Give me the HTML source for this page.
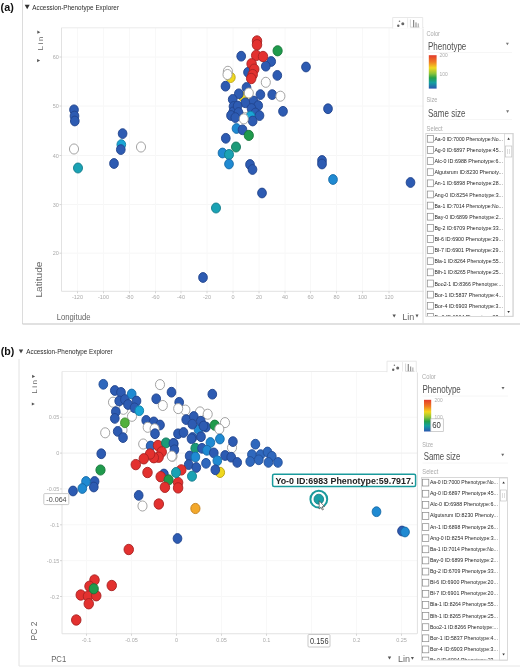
<!DOCTYPE html>
<html><head><meta charset="utf-8"><title>Accession-Phenotype Explorer</title>
<style>
html,body{margin:0;padding:0;background:#fff;}
body{width:520px;height:670px;overflow:hidden;}
svg text{font-family:"Liberation Sans", sans-serif;}
</style></head>
<body>
<svg width="520" height="670" viewBox="0 0 520 670" style="display:block;filter:blur(0.3px)">
<rect width="520" height="670" fill="#fff"/>
<text x="0.6" y="10.5" font-size="11.5" fill="#111" textLength="13.2" lengthAdjust="spacingAndGlyphs" font-weight="bold">(a)</text>
<polygon points="24.7,4.8 29.7,4.8 27.2,9.2" fill="#333"/>
<text x="32.3" y="9.5" font-size="7.2" fill="#2a2a2a" textLength="86.7" lengthAdjust="spacingAndGlyphs">Accession-Phenotype Explorer</text>
<line x1="22.5" y1="0" x2="22.5" y2="324" stroke="#dcdcdc" stroke-width="1"/>
<line x1="22.5" y1="324" x2="520" y2="324" stroke="#c4c4c4" stroke-width="1.2"/>
<line x1="61.5" y1="57" x2="424" y2="57" stroke="#f6f6f6" stroke-width="1"/>
<line x1="61.5" y1="106" x2="424" y2="106" stroke="#f6f6f6" stroke-width="1"/>
<line x1="61.5" y1="155.5" x2="424" y2="155.5" stroke="#f6f6f6" stroke-width="1"/>
<line x1="61.5" y1="204.6" x2="424" y2="204.6" stroke="#f6f6f6" stroke-width="1"/>
<line x1="61.5" y1="253.2" x2="424" y2="253.2" stroke="#f6f6f6" stroke-width="1"/>
<line x1="77.5" y1="27.8" x2="77.5" y2="291.3" stroke="#f8f8f8" stroke-width="1"/>
<line x1="103.5" y1="27.8" x2="103.5" y2="291.3" stroke="#f8f8f8" stroke-width="1"/>
<line x1="129.5" y1="27.8" x2="129.5" y2="291.3" stroke="#f8f8f8" stroke-width="1"/>
<line x1="155.5" y1="27.8" x2="155.5" y2="291.3" stroke="#f8f8f8" stroke-width="1"/>
<line x1="181" y1="27.8" x2="181" y2="291.3" stroke="#f8f8f8" stroke-width="1"/>
<line x1="207" y1="27.8" x2="207" y2="291.3" stroke="#f8f8f8" stroke-width="1"/>
<line x1="233" y1="27.8" x2="233" y2="291.3" stroke="#f8f8f8" stroke-width="1"/>
<line x1="259" y1="27.8" x2="259" y2="291.3" stroke="#f8f8f8" stroke-width="1"/>
<line x1="285" y1="27.8" x2="285" y2="291.3" stroke="#f8f8f8" stroke-width="1"/>
<line x1="310.5" y1="27.8" x2="310.5" y2="291.3" stroke="#f8f8f8" stroke-width="1"/>
<line x1="336.5" y1="27.8" x2="336.5" y2="291.3" stroke="#f8f8f8" stroke-width="1"/>
<line x1="362.5" y1="27.8" x2="362.5" y2="291.3" stroke="#f8f8f8" stroke-width="1"/>
<line x1="389" y1="27.8" x2="389" y2="291.3" stroke="#f8f8f8" stroke-width="1"/>
<line x1="61.5" y1="27.8" x2="424" y2="27.8" stroke="#ececec" stroke-width="1"/>
<line x1="61.5" y1="27.8" x2="61.5" y2="291.3" stroke="#e2e2e2" stroke-width="1"/>
<line x1="61.5" y1="291.3" x2="424" y2="291.3" stroke="#e2e2e2" stroke-width="1"/>
<line x1="77.5" y1="291.3" x2="77.5" y2="293.3" stroke="#ccc" stroke-width="0.8"/>
<text x="77.5" y="299" font-size="5.5" fill="#aaaaaa" text-anchor="middle">-120</text>
<line x1="103.5" y1="291.3" x2="103.5" y2="293.3" stroke="#ccc" stroke-width="0.8"/>
<text x="103.5" y="299" font-size="5.5" fill="#aaaaaa" text-anchor="middle">-100</text>
<line x1="129.5" y1="291.3" x2="129.5" y2="293.3" stroke="#ccc" stroke-width="0.8"/>
<text x="129.5" y="299" font-size="5.5" fill="#aaaaaa" text-anchor="middle">-80</text>
<line x1="155.5" y1="291.3" x2="155.5" y2="293.3" stroke="#ccc" stroke-width="0.8"/>
<text x="155.5" y="299" font-size="5.5" fill="#aaaaaa" text-anchor="middle">-60</text>
<line x1="181" y1="291.3" x2="181" y2="293.3" stroke="#ccc" stroke-width="0.8"/>
<text x="181" y="299" font-size="5.5" fill="#aaaaaa" text-anchor="middle">-40</text>
<line x1="207" y1="291.3" x2="207" y2="293.3" stroke="#ccc" stroke-width="0.8"/>
<text x="207" y="299" font-size="5.5" fill="#aaaaaa" text-anchor="middle">-20</text>
<line x1="233" y1="291.3" x2="233" y2="293.3" stroke="#ccc" stroke-width="0.8"/>
<text x="233" y="299" font-size="5.5" fill="#aaaaaa" text-anchor="middle">0</text>
<line x1="259" y1="291.3" x2="259" y2="293.3" stroke="#ccc" stroke-width="0.8"/>
<text x="259" y="299" font-size="5.5" fill="#aaaaaa" text-anchor="middle">20</text>
<line x1="285" y1="291.3" x2="285" y2="293.3" stroke="#ccc" stroke-width="0.8"/>
<text x="285" y="299" font-size="5.5" fill="#aaaaaa" text-anchor="middle">40</text>
<line x1="310.5" y1="291.3" x2="310.5" y2="293.3" stroke="#ccc" stroke-width="0.8"/>
<text x="310.5" y="299" font-size="5.5" fill="#aaaaaa" text-anchor="middle">60</text>
<line x1="336.5" y1="291.3" x2="336.5" y2="293.3" stroke="#ccc" stroke-width="0.8"/>
<text x="336.5" y="299" font-size="5.5" fill="#aaaaaa" text-anchor="middle">80</text>
<line x1="362.5" y1="291.3" x2="362.5" y2="293.3" stroke="#ccc" stroke-width="0.8"/>
<text x="362.5" y="299" font-size="5.5" fill="#aaaaaa" text-anchor="middle">100</text>
<line x1="389" y1="291.3" x2="389" y2="293.3" stroke="#ccc" stroke-width="0.8"/>
<text x="389" y="299" font-size="5.5" fill="#aaaaaa" text-anchor="middle">120</text>
<line x1="59.5" y1="57" x2="61.5" y2="57" stroke="#ccc" stroke-width="0.8"/>
<text x="58.8" y="59" font-size="5.5" fill="#aaaaaa" text-anchor="end">60</text>
<line x1="59.5" y1="106" x2="61.5" y2="106" stroke="#ccc" stroke-width="0.8"/>
<text x="58.8" y="108" font-size="5.5" fill="#aaaaaa" text-anchor="end">50</text>
<line x1="59.5" y1="155.5" x2="61.5" y2="155.5" stroke="#ccc" stroke-width="0.8"/>
<text x="58.8" y="157.5" font-size="5.5" fill="#aaaaaa" text-anchor="end">40</text>
<line x1="59.5" y1="204.6" x2="61.5" y2="204.6" stroke="#ccc" stroke-width="0.8"/>
<text x="58.8" y="206.6" font-size="5.5" fill="#aaaaaa" text-anchor="end">30</text>
<line x1="59.5" y1="253.2" x2="61.5" y2="253.2" stroke="#ccc" stroke-width="0.8"/>
<text x="58.8" y="255.2" font-size="5.5" fill="#aaaaaa" text-anchor="end">20</text>
<g transform="translate(42.5,50.3) rotate(-90)"><text x="0" y="0" font-size="7.5" fill="#666" textLength="13.5" lengthAdjust="spacing">Lin</text></g>
<polygon points="37.3,30.6 37.3,33.800000000000004 40.3,32.2 " fill="#555"/>
<polygon points="37.1,59.0 37.1,62.2 40.1,60.6 " fill="#555"/>
<g transform="translate(42.2,297.5) rotate(-90)"><text x="0" y="0" font-size="9.2" fill="#666" textLength="36" lengthAdjust="spacingAndGlyphs">Latitude</text></g>
<text x="56.7" y="320.3" font-size="9.2" fill="#666" textLength="33.8" lengthAdjust="spacingAndGlyphs">Longitude</text>
<polygon points="392.5,314.5 395.9,314.5 394.2,317.5" fill="#555"/>
<text x="402.3" y="320.3" font-size="9.2" fill="#666" textLength="12" lengthAdjust="spacingAndGlyphs">Lin</text>
<polygon points="415.5,314.6 418.5,314.6 417,317.4" fill="#555"/>
<ellipse cx="74" cy="109.8" rx="4.35" ry="4.9" fill="#2d5bb2" stroke="#21448c" stroke-width="0.9"/>
<ellipse cx="74.5" cy="116" rx="4.35" ry="4.9" fill="#2d5bb2" stroke="#21448c" stroke-width="0.9"/>
<ellipse cx="74.8" cy="121" rx="4.35" ry="4.9" fill="#2d5bb2" stroke="#21448c" stroke-width="0.9"/>
<ellipse cx="74" cy="149" rx="4.55" ry="5.05" fill="#ffffff" stroke="#9a9a9a" stroke-width="0.9"/>
<ellipse cx="78" cy="168" rx="4.5" ry="5.0" fill="#1aa2b4" stroke="#127c8a" stroke-width="0.9"/>
<ellipse cx="122.6" cy="133.6" rx="4.35" ry="4.9" fill="#2d5bb2" stroke="#21448c" stroke-width="0.9"/>
<ellipse cx="121.3" cy="144.6" rx="4.35" ry="4.9" fill="#19a6d6" stroke="#137fa6" stroke-width="0.9"/>
<ellipse cx="120.8" cy="149.6" rx="4.35" ry="4.9" fill="#2d5bb2" stroke="#21448c" stroke-width="0.9"/>
<ellipse cx="114" cy="163.5" rx="4.35" ry="4.9" fill="#2d5bb2" stroke="#21448c" stroke-width="0.9"/>
<ellipse cx="141" cy="147" rx="4.55" ry="5.05" fill="#ffffff" stroke="#9a9a9a" stroke-width="0.9"/>
<ellipse cx="230.6" cy="77.4" rx="4.6" ry="5.1" fill="#f0d81e" stroke="#b9a212" stroke-width="0.9"/>
<ellipse cx="243.5" cy="97" rx="4.6" ry="5.1" fill="#f0d81e" stroke="#b9a212" stroke-width="0.9"/>
<ellipse cx="244.8" cy="107.8" rx="4.55" ry="5.05" fill="#ffffff" stroke="#9a9a9a" stroke-width="0.9"/>
<ellipse cx="241.2" cy="56.2" rx="4.35" ry="4.9" fill="#2d5bb2" stroke="#21448c" stroke-width="0.9"/>
<ellipse cx="271.2" cy="61.5" rx="4.35" ry="4.9" fill="#2d5bb2" stroke="#21448c" stroke-width="0.9"/>
<ellipse cx="265.8" cy="66.2" rx="4.35" ry="4.9" fill="#2d5bb2" stroke="#21448c" stroke-width="0.9"/>
<ellipse cx="248" cy="72.3" rx="4.35" ry="4.9" fill="#2d5bb2" stroke="#21448c" stroke-width="0.9"/>
<ellipse cx="277.3" cy="75.4" rx="4.35" ry="4.9" fill="#2d5bb2" stroke="#21448c" stroke-width="0.9"/>
<ellipse cx="257" cy="41" rx="4.75" ry="5.2" fill="#e3312f" stroke="#a82222" stroke-width="0.9"/>
<ellipse cx="257" cy="44.8" rx="4.75" ry="5.2" fill="#e3312f" stroke="#a82222" stroke-width="0.9"/>
<ellipse cx="277.6" cy="50.8" rx="4.6" ry="5.1" fill="#1f9a4c" stroke="#17763a" stroke-width="0.9"/>
<ellipse cx="256.2" cy="55.4" rx="4.75" ry="5.2" fill="#e3312f" stroke="#a82222" stroke-width="0.9"/>
<ellipse cx="263" cy="56.5" rx="4.75" ry="5.2" fill="#e3312f" stroke="#a82222" stroke-width="0.9"/>
<ellipse cx="251.6" cy="63.8" rx="4.75" ry="5.2" fill="#e3312f" stroke="#a82222" stroke-width="0.9"/>
<ellipse cx="254.2" cy="69.2" rx="4.75" ry="5.2" fill="#e3312f" stroke="#a82222" stroke-width="0.9"/>
<ellipse cx="252.7" cy="74.6" rx="4.75" ry="5.2" fill="#e3312f" stroke="#a82222" stroke-width="0.9"/>
<ellipse cx="251.2" cy="78.5" rx="4.75" ry="5.2" fill="#e3312f" stroke="#a82222" stroke-width="0.9"/>
<ellipse cx="227.9" cy="71.3" rx="4.55" ry="5.05" fill="#ffffff" stroke="#9a9a9a" stroke-width="0.9"/>
<ellipse cx="227.5" cy="74.5" rx="4.55" ry="5.05" fill="#ffffff" stroke="#9a9a9a" stroke-width="0.9"/>
<ellipse cx="265.8" cy="82.3" rx="4.55" ry="5.05" fill="#ffffff" stroke="#9a9a9a" stroke-width="0.9"/>
<ellipse cx="225.5" cy="86.2" rx="4.35" ry="4.9" fill="#2d5bb2" stroke="#21448c" stroke-width="0.9"/>
<ellipse cx="246.5" cy="87.5" rx="4.35" ry="4.9" fill="#2d5bb2" stroke="#21448c" stroke-width="0.9"/>
<ellipse cx="253.5" cy="101" rx="4.35" ry="4.9" fill="#2d5bb2" stroke="#21448c" stroke-width="0.9"/>
<ellipse cx="248.8" cy="93" rx="4.55" ry="5.05" fill="#ffffff" stroke="#9a9a9a" stroke-width="0.9"/>
<ellipse cx="260.4" cy="94.6" rx="4.35" ry="4.9" fill="#2d5bb2" stroke="#21448c" stroke-width="0.9"/>
<ellipse cx="272.2" cy="94.6" rx="4.35" ry="4.9" fill="#2d5bb2" stroke="#21448c" stroke-width="0.9"/>
<ellipse cx="280.4" cy="96.2" rx="4.55" ry="5.05" fill="#ffffff" stroke="#9a9a9a" stroke-width="0.9"/>
<ellipse cx="238.8" cy="93.8" rx="4.35" ry="4.9" fill="#2d5bb2" stroke="#21448c" stroke-width="0.9"/>
<ellipse cx="232.7" cy="99.4" rx="4.35" ry="4.9" fill="#2d5bb2" stroke="#21448c" stroke-width="0.9"/>
<ellipse cx="245.3" cy="102.8" rx="4.35" ry="4.9" fill="#2d5bb2" stroke="#21448c" stroke-width="0.9"/>
<ellipse cx="258.2" cy="105.6" rx="4.35" ry="4.9" fill="#2d5bb2" stroke="#21448c" stroke-width="0.9"/>
<ellipse cx="283" cy="111.3" rx="4.35" ry="4.9" fill="#2d5bb2" stroke="#21448c" stroke-width="0.9"/>
<ellipse cx="233.5" cy="106.5" rx="4.35" ry="4.9" fill="#2d5bb2" stroke="#21448c" stroke-width="0.9"/>
<ellipse cx="233.2" cy="111.9" rx="4.35" ry="4.9" fill="#2d5bb2" stroke="#21448c" stroke-width="0.9"/>
<ellipse cx="231" cy="115.5" rx="4.35" ry="4.9" fill="#2d5bb2" stroke="#21448c" stroke-width="0.9"/>
<ellipse cx="237.6" cy="106" rx="4.35" ry="4.9" fill="#2d5bb2" stroke="#21448c" stroke-width="0.9"/>
<ellipse cx="238.5" cy="112.5" rx="4.35" ry="4.9" fill="#2d5bb2" stroke="#21448c" stroke-width="0.9"/>
<ellipse cx="251.5" cy="108.5" rx="4.35" ry="4.9" fill="#2d5bb2" stroke="#21448c" stroke-width="0.9"/>
<ellipse cx="255.4" cy="113" rx="4.35" ry="4.9" fill="#2d5bb2" stroke="#21448c" stroke-width="0.9"/>
<ellipse cx="259.5" cy="115.6" rx="4.35" ry="4.9" fill="#2d5bb2" stroke="#21448c" stroke-width="0.9"/>
<ellipse cx="235.3" cy="117.6" rx="4.35" ry="4.9" fill="#2d5bb2" stroke="#21448c" stroke-width="0.9"/>
<ellipse cx="250.5" cy="116.2" rx="4.35" ry="4.9" fill="#19a6d6" stroke="#137fa6" stroke-width="0.9"/>
<ellipse cx="252.7" cy="121" rx="4.35" ry="4.9" fill="#2d5bb2" stroke="#21448c" stroke-width="0.9"/>
<ellipse cx="243.8" cy="118.9" rx="4.55" ry="5.05" fill="#ffffff" stroke="#9a9a9a" stroke-width="0.9"/>
<ellipse cx="236.5" cy="128.5" rx="4.35" ry="4.9" fill="#1f8ad2" stroke="#166aa6" stroke-width="0.9"/>
<ellipse cx="242.5" cy="129.8" rx="4.35" ry="4.9" fill="#2d5bb2" stroke="#21448c" stroke-width="0.9"/>
<ellipse cx="248.8" cy="135.4" rx="4.6" ry="5.1" fill="#1f9a4c" stroke="#17763a" stroke-width="0.9"/>
<ellipse cx="225.8" cy="138.3" rx="4.35" ry="4.9" fill="#2d5bb2" stroke="#21448c" stroke-width="0.9"/>
<ellipse cx="236" cy="147" rx="4.5" ry="5.0" fill="#1c9b78" stroke="#14765a" stroke-width="0.9"/>
<ellipse cx="222.5" cy="153" rx="4.35" ry="4.9" fill="#1f8ad2" stroke="#166aa6" stroke-width="0.9"/>
<ellipse cx="229" cy="154.5" rx="4.5" ry="5.0" fill="#1aa2b4" stroke="#127c8a" stroke-width="0.9"/>
<ellipse cx="229" cy="164" rx="4.35" ry="4.9" fill="#1f8ad2" stroke="#166aa6" stroke-width="0.9"/>
<ellipse cx="250" cy="164.5" rx="4.35" ry="4.9" fill="#2d5bb2" stroke="#21448c" stroke-width="0.9"/>
<ellipse cx="252.5" cy="169.5" rx="4.35" ry="4.9" fill="#2d5bb2" stroke="#21448c" stroke-width="0.9"/>
<ellipse cx="262" cy="193" rx="4.35" ry="4.9" fill="#2d5bb2" stroke="#21448c" stroke-width="0.9"/>
<ellipse cx="216" cy="208" rx="4.5" ry="5.0" fill="#1aa2b4" stroke="#127c8a" stroke-width="0.9"/>
<ellipse cx="203" cy="277.5" rx="4.35" ry="4.9" fill="#2d5bb2" stroke="#21448c" stroke-width="0.9"/>
<ellipse cx="306" cy="67" rx="4.35" ry="4.9" fill="#2d5bb2" stroke="#21448c" stroke-width="0.9"/>
<ellipse cx="328" cy="108.75" rx="4.35" ry="4.9" fill="#2d5bb2" stroke="#21448c" stroke-width="0.9"/>
<ellipse cx="322" cy="160.5" rx="4.35" ry="4.9" fill="#2d5bb2" stroke="#21448c" stroke-width="0.9"/>
<ellipse cx="322" cy="164" rx="4.35" ry="4.9" fill="#2d5bb2" stroke="#21448c" stroke-width="0.9"/>
<ellipse cx="333" cy="179.5" rx="4.35" ry="4.9" fill="#1f8ad2" stroke="#166aa6" stroke-width="0.9"/>
<ellipse cx="410.5" cy="182.5" rx="4.35" ry="4.9" fill="#2d5bb2" stroke="#21448c" stroke-width="0.9"/>
<path d="M392.7 28.3 V17.5 H422.7 V28.3" fill="#fff" stroke="#e2e2e2" stroke-width="0.8"/>
<circle cx="398.3" cy="25.7" r="1.2" fill="#666"/><circle cx="399.5" cy="21.2" r="0.8" fill="#777"/><circle cx="402.8" cy="23.8" r="1.5" fill="#666"/>
<line x1="407.6" y1="18.2" x2="407.6" y2="27.6" stroke="#e6e6e6" stroke-width="0.8"/>
<path d="M410.4 19.5 V27.2 H419.5" fill="none" stroke="#aaa" stroke-width="0.5"/><rect x="413" y="20" width="1.2" height="7.2" fill="#888"/><rect x="415.4" y="22.4" width="1.2" height="4.8" fill="#999"/><rect x="417.7" y="23.4" width="1.1" height="3.8" fill="#aaa"/>
<line x1="423" y1="29" x2="423" y2="324" stroke="#e0e0e0" stroke-width="1"/>
<text x="426.4" y="35.5" font-size="7" fill="#aaa" textLength="13.6" lengthAdjust="spacingAndGlyphs">Color</text>
<text x="428" y="49.6" font-size="10.4" fill="#505050" textLength="38.3" lengthAdjust="spacingAndGlyphs">Phenotype</text>
<line x1="428" y1="52.5" x2="512" y2="52.5" stroke="#f4f4f4" stroke-width="0.8"/>
<polygon points="505.9,42.7 508.9,42.7 507.4,45.3" fill="#777"/>
<defs><linearGradient id="cb" x1="0" y1="0" x2="0" y2="1"><stop offset="0" stop-color="#e23a2c"/><stop offset="0.2" stop-color="#f07a22"/><stop offset="0.38" stop-color="#f2d81e"/><stop offset="0.55" stop-color="#8cc43a"/><stop offset="0.68" stop-color="#24a04a"/><stop offset="0.82" stop-color="#14a0a0"/><stop offset="1" stop-color="#2a56b0"/></linearGradient></defs>
<rect x="428.8" y="55.2" width="7.8" height="33.4" fill="url(#cb)"/>
<text x="439.6" y="57.4" font-size="5.5" fill="#aaa" textLength="8.2" lengthAdjust="spacingAndGlyphs">200</text>
<text x="439.6" y="75.6" font-size="5.5" fill="#aaa" textLength="8.2" lengthAdjust="spacingAndGlyphs">100</text>
<text x="426.6" y="102.2" font-size="7" fill="#aaa" textLength="10.8" lengthAdjust="spacingAndGlyphs">Size</text>
<text x="428" y="117.1" font-size="10.4" fill="#505050" textLength="37.4" lengthAdjust="spacingAndGlyphs">Same size</text>
<line x1="428" y1="119.5" x2="512" y2="119.5" stroke="#f4f4f4" stroke-width="0.8"/>
<polygon points="506.1,110.3 509.1,110.3 507.6,112.89999999999999" fill="#777"/>
<text x="426.6" y="130.8" font-size="7" fill="#aaa" textLength="16" lengthAdjust="spacingAndGlyphs">Select</text>
<rect x="425.8" y="133.4" width="87.4" height="183" fill="#fff" stroke="#cfcfcf" stroke-width="0.8"/>
<svg x="426" y="133.8" width="78.5" height="182.2">
<rect x="1.3" y="1.6" width="6.3" height="6.8" fill="#fff" stroke="#888" stroke-width="0.7"/>
<text x="8.4" y="7.1" font-size="5.9" fill="#262626" textLength="68.5" lengthAdjust="spacingAndGlyphs">Aa-0 ID:7000 Phenotype:No...</text>
<rect x="1.3" y="12.729999999999995" width="6.3" height="6.8" fill="#fff" stroke="#888" stroke-width="0.7"/>
<text x="8.4" y="18.229999999999997" font-size="5.9" fill="#262626" textLength="68.5" lengthAdjust="spacingAndGlyphs">Ag-0 ID:6897 Phenotype:45...</text>
<rect x="1.3" y="23.859999999999992" width="6.3" height="6.8" fill="#fff" stroke="#888" stroke-width="0.7"/>
<text x="8.4" y="29.359999999999992" font-size="5.9" fill="#262626" textLength="68.5" lengthAdjust="spacingAndGlyphs">Alc-0 ID:6988 Phenotype:6...</text>
<rect x="1.3" y="34.98999999999999" width="6.3" height="6.8" fill="#fff" stroke="#888" stroke-width="0.7"/>
<text x="8.4" y="40.48999999999999" font-size="5.9" fill="#262626" textLength="68.5" lengthAdjust="spacingAndGlyphs">Algutsrum ID:8230 Phenoty...</text>
<rect x="1.3" y="46.12000000000001" width="6.3" height="6.8" fill="#fff" stroke="#888" stroke-width="0.7"/>
<text x="8.4" y="51.62000000000001" font-size="5.9" fill="#262626" textLength="68.5" lengthAdjust="spacingAndGlyphs">An-1 ID:6898 Phenotype:28...</text>
<rect x="1.3" y="57.25000000000001" width="6.3" height="6.8" fill="#fff" stroke="#888" stroke-width="0.7"/>
<text x="8.4" y="62.75000000000001" font-size="5.9" fill="#262626" textLength="68.5" lengthAdjust="spacingAndGlyphs">Ang-0 ID:8254 Phenotype:3...</text>
<rect x="1.3" y="68.38" width="6.3" height="6.8" fill="#fff" stroke="#888" stroke-width="0.7"/>
<text x="8.4" y="73.88" font-size="5.9" fill="#262626" textLength="68.5" lengthAdjust="spacingAndGlyphs">Ba-1 ID:7014 Phenotype:No...</text>
<rect x="1.3" y="79.51000000000002" width="6.3" height="6.8" fill="#fff" stroke="#888" stroke-width="0.7"/>
<text x="8.4" y="85.01000000000002" font-size="5.9" fill="#262626" textLength="68.5" lengthAdjust="spacingAndGlyphs">Bay-0 ID:6899 Phenotype:2...</text>
<rect x="1.3" y="90.64000000000001" width="6.3" height="6.8" fill="#fff" stroke="#888" stroke-width="0.7"/>
<text x="8.4" y="96.14000000000001" font-size="5.9" fill="#262626" textLength="68.5" lengthAdjust="spacingAndGlyphs">Bg-2 ID:6709 Phenotype:33...</text>
<rect x="1.3" y="101.77000000000001" width="6.3" height="6.8" fill="#fff" stroke="#888" stroke-width="0.7"/>
<text x="8.4" y="107.27000000000001" font-size="5.9" fill="#262626" textLength="68.5" lengthAdjust="spacingAndGlyphs">Bl-6 ID:6900 Phenotype:29...</text>
<rect x="1.3" y="112.9" width="6.3" height="6.8" fill="#fff" stroke="#888" stroke-width="0.7"/>
<text x="8.4" y="118.4" font-size="5.9" fill="#262626" textLength="68.5" lengthAdjust="spacingAndGlyphs">Bl-7 ID:6901 Phenotype:29...</text>
<rect x="1.3" y="124.03" width="6.3" height="6.8" fill="#fff" stroke="#888" stroke-width="0.7"/>
<text x="8.4" y="129.53" font-size="5.9" fill="#262626" textLength="68.5" lengthAdjust="spacingAndGlyphs">Bla-1 ID:8264 Phenotype:55...</text>
<rect x="1.3" y="135.16" width="6.3" height="6.8" fill="#fff" stroke="#888" stroke-width="0.7"/>
<text x="8.4" y="140.66" font-size="5.9" fill="#262626" textLength="68.5" lengthAdjust="spacingAndGlyphs">Blh-1 ID:8265 Phenotype:25...</text>
<rect x="1.3" y="146.29" width="6.3" height="6.8" fill="#fff" stroke="#888" stroke-width="0.7"/>
<text x="8.4" y="151.79" font-size="5.9" fill="#262626" textLength="68.5" lengthAdjust="spacingAndGlyphs">Boo2-1 ID:8366 Phenotype:...</text>
<rect x="1.3" y="157.42" width="6.3" height="6.8" fill="#fff" stroke="#888" stroke-width="0.7"/>
<text x="8.4" y="162.92" font-size="5.9" fill="#262626" textLength="68.5" lengthAdjust="spacingAndGlyphs">Bor-1 ID:5837 Phenotype:4...</text>
<rect x="1.3" y="168.54999999999998" width="6.3" height="6.8" fill="#fff" stroke="#888" stroke-width="0.7"/>
<text x="8.4" y="174.04999999999998" font-size="5.9" fill="#262626" textLength="68.5" lengthAdjust="spacingAndGlyphs">Bor-4 ID:6903 Phenotype:3...</text>
<rect x="1.3" y="179.67999999999998" width="6.3" height="6.8" fill="#fff" stroke="#888" stroke-width="0.7"/>
<text x="8.4" y="185.17999999999998" font-size="5.9" fill="#262626" textLength="68.5" lengthAdjust="spacingAndGlyphs">Br-0 ID:6904 Phenotype:23...</text>
</svg>
<rect x="504.6" y="133.8" width="8.2" height="182.4" fill="#fff" stroke="#cfcfcf" stroke-width="0.7"/>
<polygon transform="rotate(180 508.6 138.6)" points="507.3,137.5 509.90000000000003,137.5 508.6,139.7" fill="#333"/>
<rect x="505.6" y="146" width="6.2" height="11" fill="#fff" stroke="#bbb" stroke-width="0.6"/>
<line x1="507.5" y1="149" x2="507.5" y2="154" stroke="#bbb" stroke-width="0.5"/><line x1="509.5" y1="149" x2="509.5" y2="154" stroke="#bbb" stroke-width="0.5"/>
<polygon points="507.3,310.9 509.90000000000003,310.9 508.6,313.1" fill="#333"/>
<text x="0.8" y="355.4" font-size="11.5" fill="#111" textLength="13.6" lengthAdjust="spacingAndGlyphs" font-weight="bold">(b)</text>
<polygon points="18.8,349.6 23.2,349.6 21,353.6" fill="#444"/>
<text x="26.3" y="354.2" font-size="7.2" fill="#2a2a2a" textLength="86.3" lengthAdjust="spacingAndGlyphs">Accession-Phenotype Explorer</text>
<line x1="19" y1="359" x2="19" y2="666" stroke="#e2e2e2" stroke-width="1"/>
<line x1="19" y1="666" x2="520" y2="666" stroke="#e6e6e6" stroke-width="1"/>
<line x1="62" y1="417.25" x2="417" y2="417.25" stroke="#f7f7f7" stroke-width="1"/>
<line x1="62" y1="488.95000000000005" x2="417" y2="488.95000000000005" stroke="#f7f7f7" stroke-width="1"/>
<line x1="62" y1="524.8000000000001" x2="417" y2="524.8000000000001" stroke="#f7f7f7" stroke-width="1"/>
<line x1="62" y1="560.65" x2="417" y2="560.65" stroke="#f7f7f7" stroke-width="1"/>
<line x1="62" y1="596.5" x2="417" y2="596.5" stroke="#f7f7f7" stroke-width="1"/>
<line x1="86.5" y1="371.5" x2="86.5" y2="633.75" stroke="#f8f8f8" stroke-width="1"/>
<line x1="131.5" y1="371.5" x2="131.5" y2="633.75" stroke="#f8f8f8" stroke-width="1"/>
<line x1="221.5" y1="371.5" x2="221.5" y2="633.75" stroke="#f8f8f8" stroke-width="1"/>
<line x1="266.5" y1="371.5" x2="266.5" y2="633.75" stroke="#f8f8f8" stroke-width="1"/>
<line x1="311.5" y1="371.5" x2="311.5" y2="633.75" stroke="#f8f8f8" stroke-width="1"/>
<line x1="356.5" y1="371.5" x2="356.5" y2="633.75" stroke="#f8f8f8" stroke-width="1"/>
<line x1="401.5" y1="371.5" x2="401.5" y2="633.75" stroke="#f8f8f8" stroke-width="1"/>
<line x1="62" y1="453.1" x2="417" y2="453.1" stroke="#eeeeee" stroke-width="1"/>
<line x1="176.5" y1="371.5" x2="176.5" y2="633.75" stroke="#f0f0f0" stroke-width="1"/>
<line x1="62" y1="371.5" x2="417" y2="371.5" stroke="#ececec" stroke-width="1"/>
<line x1="62" y1="371.5" x2="62" y2="633.75" stroke="#e2e2e2" stroke-width="1"/>
<line x1="62" y1="633.75" x2="417" y2="633.75" stroke="#e2e2e2" stroke-width="1"/>
<line x1="86.5" y1="633.75" x2="86.5" y2="635.75" stroke="#ccc" stroke-width="0.8"/>
<text x="86.5" y="641.6" font-size="5.5" fill="#aaaaaa" text-anchor="middle">-0.1</text>
<line x1="131.5" y1="633.75" x2="131.5" y2="635.75" stroke="#ccc" stroke-width="0.8"/>
<text x="131.5" y="641.6" font-size="5.5" fill="#aaaaaa" text-anchor="middle">-0.05</text>
<line x1="176.5" y1="633.75" x2="176.5" y2="635.75" stroke="#ccc" stroke-width="0.8"/>
<text x="176.5" y="641.6" font-size="5.5" fill="#aaaaaa" text-anchor="middle">0</text>
<line x1="221.5" y1="633.75" x2="221.5" y2="635.75" stroke="#ccc" stroke-width="0.8"/>
<text x="221.5" y="641.6" font-size="5.5" fill="#aaaaaa" text-anchor="middle">0.05</text>
<line x1="266.5" y1="633.75" x2="266.5" y2="635.75" stroke="#ccc" stroke-width="0.8"/>
<text x="266.5" y="641.6" font-size="5.5" fill="#aaaaaa" text-anchor="middle">0.1</text>
<line x1="356.5" y1="633.75" x2="356.5" y2="635.75" stroke="#ccc" stroke-width="0.8"/>
<text x="356.5" y="641.6" font-size="5.5" fill="#aaaaaa" text-anchor="middle">0.2</text>
<line x1="401.5" y1="633.75" x2="401.5" y2="635.75" stroke="#ccc" stroke-width="0.8"/>
<text x="401.5" y="641.6" font-size="5.5" fill="#aaaaaa" text-anchor="middle">0.25</text>
<line x1="60" y1="417.25" x2="62" y2="417.25" stroke="#ccc" stroke-width="0.8"/>
<text x="59.4" y="419.25" font-size="5.5" fill="#aaaaaa" text-anchor="end">0.05</text>
<line x1="60" y1="453.1" x2="62" y2="453.1" stroke="#ccc" stroke-width="0.8"/>
<text x="59.4" y="455.1" font-size="5.5" fill="#aaaaaa" text-anchor="end">0</text>
<line x1="60" y1="488.95000000000005" x2="62" y2="488.95000000000005" stroke="#ccc" stroke-width="0.8"/>
<text x="59.4" y="490.95000000000005" font-size="5.5" fill="#aaaaaa" text-anchor="end">-0.05</text>
<line x1="60" y1="524.8000000000001" x2="62" y2="524.8000000000001" stroke="#ccc" stroke-width="0.8"/>
<text x="59.4" y="526.8000000000001" font-size="5.5" fill="#aaaaaa" text-anchor="end">-0.1</text>
<line x1="60" y1="560.65" x2="62" y2="560.65" stroke="#ccc" stroke-width="0.8"/>
<text x="59.4" y="562.65" font-size="5.5" fill="#aaaaaa" text-anchor="end">-0.15</text>
<line x1="60" y1="596.5" x2="62" y2="596.5" stroke="#ccc" stroke-width="0.8"/>
<text x="59.4" y="598.5" font-size="5.5" fill="#aaaaaa" text-anchor="end">-0.2</text>
<g transform="translate(37,393.6) rotate(-90)"><text x="0" y="0" font-size="7.5" fill="#666" textLength="13.5" lengthAdjust="spacing">Lin</text></g>
<polygon points="32.1,374.79999999999995 32.1,378.0 35.1,376.4 " fill="#555"/>
<polygon points="31.799999999999997,402.4 31.799999999999997,405.6 34.8,404 " fill="#555"/>
<g transform="translate(37.2,640.5) rotate(-90)"><text x="0" y="0" font-size="9.2" fill="#666" textLength="19" lengthAdjust="spacingAndGlyphs">PC 2</text></g>
<text x="51.2" y="662" font-size="9.2" fill="#666" textLength="15" lengthAdjust="spacingAndGlyphs">PC1</text>
<polygon points="387.8,656.5 391.2,656.5 389.5,659.5" fill="#555"/>
<text x="398" y="662" font-size="9.2" fill="#666" textLength="12" lengthAdjust="spacingAndGlyphs">Lin</text>
<polygon points="410.9,657.0 413.9,657.0 412.4,659.8" fill="#555"/>
<ellipse cx="113" cy="402.2" rx="4.55" ry="5.05" fill="#ffffff" stroke="#9a9a9a" stroke-width="0.9"/>
<ellipse cx="123.4" cy="409.3" rx="4.55" ry="5.05" fill="#ffffff" stroke="#9a9a9a" stroke-width="0.9"/>
<ellipse cx="132" cy="416.3" rx="4.55" ry="5.05" fill="#ffffff" stroke="#9a9a9a" stroke-width="0.9"/>
<ellipse cx="122.5" cy="430" rx="4.55" ry="5.05" fill="#ffffff" stroke="#9a9a9a" stroke-width="0.9"/>
<ellipse cx="103.3" cy="384.3" rx="4.35" ry="4.9" fill="#2f68bd" stroke="#224e96" stroke-width="0.9"/>
<ellipse cx="160" cy="384.6" rx="4.55" ry="5.05" fill="#ffffff" stroke="#9a9a9a" stroke-width="0.9"/>
<ellipse cx="114.8" cy="390.5" rx="4.35" ry="4.9" fill="#2d5bb2" stroke="#21448c" stroke-width="0.9"/>
<ellipse cx="121" cy="392.4" rx="4.35" ry="4.9" fill="#2d5bb2" stroke="#21448c" stroke-width="0.9"/>
<ellipse cx="119.2" cy="401" rx="4.35" ry="4.9" fill="#2d5bb2" stroke="#21448c" stroke-width="0.9"/>
<ellipse cx="124.9" cy="399.5" rx="4.35" ry="4.9" fill="#2d5bb2" stroke="#21448c" stroke-width="0.9"/>
<ellipse cx="131.7" cy="394" rx="4.35" ry="4.9" fill="#1f8ad2" stroke="#166aa6" stroke-width="0.9"/>
<ellipse cx="128" cy="404.5" rx="4.35" ry="4.9" fill="#2d5bb2" stroke="#21448c" stroke-width="0.9"/>
<ellipse cx="136.5" cy="401" rx="4.35" ry="4.9" fill="#2d5bb2" stroke="#21448c" stroke-width="0.9"/>
<ellipse cx="134.5" cy="407.8" rx="4.35" ry="4.9" fill="#2d5bb2" stroke="#21448c" stroke-width="0.9"/>
<ellipse cx="139.3" cy="410.7" rx="4.35" ry="4.9" fill="#19a6d6" stroke="#137fa6" stroke-width="0.9"/>
<ellipse cx="115.8" cy="411.7" rx="4.35" ry="4.9" fill="#2d5bb2" stroke="#21448c" stroke-width="0.9"/>
<ellipse cx="114.8" cy="418.4" rx="4.35" ry="4.9" fill="#2d5bb2" stroke="#21448c" stroke-width="0.9"/>
<ellipse cx="124.9" cy="422.8" rx="4.35" ry="4.9" fill="#52b03c" stroke="#3c8a2c" stroke-width="0.9"/>
<ellipse cx="105.2" cy="432.8" rx="4.55" ry="5.05" fill="#ffffff" stroke="#9a9a9a" stroke-width="0.9"/>
<ellipse cx="117.7" cy="431.4" rx="4.35" ry="4.9" fill="#2d5bb2" stroke="#21448c" stroke-width="0.9"/>
<ellipse cx="123" cy="437.6" rx="4.35" ry="4.9" fill="#2d5bb2" stroke="#21448c" stroke-width="0.9"/>
<ellipse cx="179.2" cy="402.3" rx="4.35" ry="4.9" fill="#2d5bb2" stroke="#21448c" stroke-width="0.9"/>
<ellipse cx="185.4" cy="410.1" rx="4.55" ry="5.05" fill="#ffffff" stroke="#9a9a9a" stroke-width="0.9"/>
<ellipse cx="178.2" cy="408.6" rx="4.55" ry="5.05" fill="#ffffff" stroke="#9a9a9a" stroke-width="0.9"/>
<ellipse cx="200" cy="411.9" rx="4.55" ry="5.05" fill="#ffffff" stroke="#9a9a9a" stroke-width="0.9"/>
<ellipse cx="207.7" cy="414.2" rx="4.55" ry="5.05" fill="#ffffff" stroke="#9a9a9a" stroke-width="0.9"/>
<ellipse cx="171.5" cy="392.2" rx="4.35" ry="4.9" fill="#2d5bb2" stroke="#21448c" stroke-width="0.9"/>
<ellipse cx="156.2" cy="398.8" rx="4.35" ry="4.9" fill="#2d5bb2" stroke="#21448c" stroke-width="0.9"/>
<ellipse cx="162.8" cy="405.5" rx="4.55" ry="5.05" fill="#ffffff" stroke="#9a9a9a" stroke-width="0.9"/>
<ellipse cx="212.3" cy="394.2" rx="4.35" ry="4.9" fill="#2d5bb2" stroke="#21448c" stroke-width="0.9"/>
<ellipse cx="186.2" cy="419.6" rx="4.35" ry="4.9" fill="#2d5bb2" stroke="#21448c" stroke-width="0.9"/>
<ellipse cx="198.5" cy="429.6" rx="4.35" ry="4.9" fill="#1f8ad2" stroke="#166aa6" stroke-width="0.9"/>
<ellipse cx="206" cy="427" rx="4.35" ry="4.9" fill="#2d5bb2" stroke="#21448c" stroke-width="0.9"/>
<ellipse cx="193.8" cy="416.5" rx="4.35" ry="4.9" fill="#2d5bb2" stroke="#21448c" stroke-width="0.9"/>
<ellipse cx="200.8" cy="421.2" rx="4.35" ry="4.9" fill="#2d5bb2" stroke="#21448c" stroke-width="0.9"/>
<ellipse cx="192.3" cy="424.2" rx="4.35" ry="4.9" fill="#2d5bb2" stroke="#21448c" stroke-width="0.9"/>
<ellipse cx="214.7" cy="425.2" rx="4.6" ry="5.1" fill="#1f9a4c" stroke="#17763a" stroke-width="0.9"/>
<ellipse cx="146.2" cy="420.4" rx="4.35" ry="4.9" fill="#2d5bb2" stroke="#21448c" stroke-width="0.9"/>
<ellipse cx="153.8" cy="421.9" rx="4.35" ry="4.9" fill="#2d5bb2" stroke="#21448c" stroke-width="0.9"/>
<ellipse cx="160" cy="425" rx="4.35" ry="4.9" fill="#2d5bb2" stroke="#21448c" stroke-width="0.9"/>
<ellipse cx="147.7" cy="427.3" rx="4.55" ry="5.05" fill="#ffffff" stroke="#9a9a9a" stroke-width="0.9"/>
<ellipse cx="154.6" cy="428.8" rx="4.55" ry="5.05" fill="#ffffff" stroke="#9a9a9a" stroke-width="0.9"/>
<ellipse cx="155" cy="433.75" rx="4.35" ry="4.9" fill="#2d5bb2" stroke="#21448c" stroke-width="0.9"/>
<ellipse cx="178" cy="433.8" rx="4.35" ry="4.9" fill="#2d5bb2" stroke="#21448c" stroke-width="0.9"/>
<ellipse cx="183.5" cy="432.5" rx="4.35" ry="4.9" fill="#2d5bb2" stroke="#21448c" stroke-width="0.9"/>
<ellipse cx="225" cy="422.6" rx="4.55" ry="5.05" fill="#ffffff" stroke="#9a9a9a" stroke-width="0.9"/>
<ellipse cx="219.3" cy="429" rx="4.55" ry="5.05" fill="#ffffff" stroke="#9a9a9a" stroke-width="0.9"/>
<ellipse cx="203.5" cy="426" rx="4.35" ry="4.9" fill="#2d5bb2" stroke="#21448c" stroke-width="0.9"/>
<ellipse cx="192.5" cy="437.5" rx="4.35" ry="4.9" fill="#2d5bb2" stroke="#21448c" stroke-width="0.9"/>
<ellipse cx="201" cy="436.7" rx="4.35" ry="4.9" fill="#2d5bb2" stroke="#21448c" stroke-width="0.9"/>
<ellipse cx="232" cy="447.7" rx="4.55" ry="5.05" fill="#ffffff" stroke="#9a9a9a" stroke-width="0.9"/>
<ellipse cx="219.9" cy="439" rx="4.35" ry="4.9" fill="#1f8ad2" stroke="#166aa6" stroke-width="0.9"/>
<ellipse cx="232.9" cy="441.6" rx="4.35" ry="4.9" fill="#2d5bb2" stroke="#21448c" stroke-width="0.9"/>
<ellipse cx="210.4" cy="442.5" rx="4.35" ry="4.9" fill="#1f8ad2" stroke="#166aa6" stroke-width="0.9"/>
<ellipse cx="173.75" cy="443.75" rx="4.35" ry="4.9" fill="#2d5bb2" stroke="#21448c" stroke-width="0.9"/>
<ellipse cx="191.5" cy="438.7" rx="4.35" ry="4.9" fill="#2d5bb2" stroke="#21448c" stroke-width="0.9"/>
<ellipse cx="195.4" cy="448.3" rx="4.5" ry="5.0" fill="#1c9b78" stroke="#14765a" stroke-width="0.9"/>
<ellipse cx="202" cy="448.3" rx="4.35" ry="4.9" fill="#2d5bb2" stroke="#21448c" stroke-width="0.9"/>
<ellipse cx="206.9" cy="450.3" rx="4.35" ry="4.9" fill="#1f8ad2" stroke="#166aa6" stroke-width="0.9"/>
<ellipse cx="213.8" cy="452.9" rx="4.35" ry="4.9" fill="#2d5bb2" stroke="#21448c" stroke-width="0.9"/>
<ellipse cx="225.1" cy="455.5" rx="4.35" ry="4.9" fill="#2d5bb2" stroke="#21448c" stroke-width="0.9"/>
<ellipse cx="231.2" cy="457.2" rx="4.35" ry="4.9" fill="#2d5bb2" stroke="#21448c" stroke-width="0.9"/>
<ellipse cx="237.2" cy="462.4" rx="4.35" ry="4.9" fill="#2d5bb2" stroke="#21448c" stroke-width="0.9"/>
<ellipse cx="189.6" cy="456" rx="4.35" ry="4.9" fill="#2d5bb2" stroke="#21448c" stroke-width="0.9"/>
<ellipse cx="195.4" cy="457" rx="4.35" ry="4.9" fill="#1f8ad2" stroke="#166aa6" stroke-width="0.9"/>
<ellipse cx="188.7" cy="464.6" rx="4.35" ry="4.9" fill="#2d5bb2" stroke="#21448c" stroke-width="0.9"/>
<ellipse cx="196.3" cy="467.5" rx="4.35" ry="4.9" fill="#2d5bb2" stroke="#21448c" stroke-width="0.9"/>
<ellipse cx="206" cy="463.3" rx="4.35" ry="4.9" fill="#2f68bd" stroke="#224e96" stroke-width="0.9"/>
<ellipse cx="220" cy="472.4" rx="4.6" ry="5.1" fill="#f0d81e" stroke="#b9a212" stroke-width="0.9"/>
<ellipse cx="217.3" cy="460.7" rx="4.35" ry="4.9" fill="#1f8ad2" stroke="#166aa6" stroke-width="0.9"/>
<ellipse cx="215.3" cy="469.8" rx="4.35" ry="4.9" fill="#2d5bb2" stroke="#21448c" stroke-width="0.9"/>
<ellipse cx="172.5" cy="456.25" rx="4.55" ry="5.05" fill="#ffffff" stroke="#9a9a9a" stroke-width="0.9"/>
<ellipse cx="192" cy="476.2" rx="4.5" ry="5.0" fill="#1aa2b4" stroke="#127c8a" stroke-width="0.9"/>
<ellipse cx="255.4" cy="444.2" rx="4.35" ry="4.9" fill="#2f68bd" stroke="#224e96" stroke-width="0.9"/>
<ellipse cx="251.9" cy="454.6" rx="4.35" ry="4.9" fill="#2f68bd" stroke="#224e96" stroke-width="0.9"/>
<ellipse cx="250.2" cy="461.5" rx="4.35" ry="4.9" fill="#2f68bd" stroke="#224e96" stroke-width="0.9"/>
<ellipse cx="260.6" cy="454.6" rx="4.35" ry="4.9" fill="#2f68bd" stroke="#224e96" stroke-width="0.9"/>
<ellipse cx="267.5" cy="452" rx="4.35" ry="4.9" fill="#2f68bd" stroke="#224e96" stroke-width="0.9"/>
<ellipse cx="271.8" cy="456.3" rx="4.35" ry="4.9" fill="#2f68bd" stroke="#224e96" stroke-width="0.9"/>
<ellipse cx="268.4" cy="462.4" rx="4.35" ry="4.9" fill="#2f68bd" stroke="#224e96" stroke-width="0.9"/>
<ellipse cx="277.9" cy="462.4" rx="4.35" ry="4.9" fill="#2f68bd" stroke="#224e96" stroke-width="0.9"/>
<ellipse cx="258.8" cy="459.8" rx="4.35" ry="4.9" fill="#2f68bd" stroke="#224e96" stroke-width="0.9"/>
<ellipse cx="143.2" cy="444" rx="4.55" ry="5.05" fill="#ffffff" stroke="#9a9a9a" stroke-width="0.9"/>
<ellipse cx="150.6" cy="446" rx="4.35" ry="4.9" fill="#2f68bd" stroke="#224e96" stroke-width="0.9"/>
<ellipse cx="158" cy="445.5" rx="4.75" ry="5.2" fill="#e3312f" stroke="#a82222" stroke-width="0.9"/>
<ellipse cx="166" cy="442.9" rx="4.5" ry="5.0" fill="#1c9b78" stroke="#14765a" stroke-width="0.9"/>
<ellipse cx="173.4" cy="443.4" rx="4.35" ry="4.9" fill="#2d5bb2" stroke="#21448c" stroke-width="0.9"/>
<ellipse cx="174.4" cy="449.8" rx="4.35" ry="4.9" fill="#2d5bb2" stroke="#21448c" stroke-width="0.9"/>
<ellipse cx="171.8" cy="456.1" rx="4.55" ry="5.05" fill="#ffffff" stroke="#9a9a9a" stroke-width="0.9"/>
<ellipse cx="161.7" cy="451.9" rx="4.75" ry="5.2" fill="#e3312f" stroke="#a82222" stroke-width="0.9"/>
<ellipse cx="158.6" cy="457.2" rx="4.75" ry="5.2" fill="#e3312f" stroke="#a82222" stroke-width="0.9"/>
<ellipse cx="153.8" cy="457.7" rx="4.75" ry="5.2" fill="#e3312f" stroke="#a82222" stroke-width="0.9"/>
<ellipse cx="150.1" cy="454" rx="4.75" ry="5.2" fill="#e3312f" stroke="#a82222" stroke-width="0.9"/>
<ellipse cx="143.8" cy="458.8" rx="4.75" ry="5.2" fill="#e3312f" stroke="#a82222" stroke-width="0.9"/>
<ellipse cx="135.8" cy="464.6" rx="4.75" ry="5.2" fill="#e3312f" stroke="#a82222" stroke-width="0.9"/>
<ellipse cx="147.5" cy="472.5" rx="4.75" ry="5.2" fill="#e3312f" stroke="#a82222" stroke-width="0.9"/>
<ellipse cx="163.9" cy="474" rx="4.35" ry="4.9" fill="#2d5bb2" stroke="#21448c" stroke-width="0.9"/>
<ellipse cx="160.7" cy="476.7" rx="4.75" ry="5.2" fill="#e3312f" stroke="#a82222" stroke-width="0.9"/>
<ellipse cx="168.6" cy="479.9" rx="4.6" ry="5.1" fill="#1f9a4c" stroke="#17763a" stroke-width="0.9"/>
<ellipse cx="164.9" cy="487.3" rx="4.75" ry="5.2" fill="#e3312f" stroke="#a82222" stroke-width="0.9"/>
<ellipse cx="178.1" cy="482.6" rx="4.75" ry="5.2" fill="#e3312f" stroke="#a82222" stroke-width="0.9"/>
<ellipse cx="178.1" cy="487.9" rx="4.75" ry="5.2" fill="#e3312f" stroke="#a82222" stroke-width="0.9"/>
<ellipse cx="181.3" cy="469.9" rx="4.75" ry="5.2" fill="#e3312f" stroke="#a82222" stroke-width="0.9"/>
<ellipse cx="176" cy="472.5" rx="4.5" ry="5.0" fill="#1aa2b4" stroke="#127c8a" stroke-width="0.9"/>
<ellipse cx="138.7" cy="495.4" rx="4.35" ry="4.9" fill="#2d5bb2" stroke="#21448c" stroke-width="0.9"/>
<ellipse cx="142.5" cy="506" rx="4.55" ry="5.05" fill="#ffffff" stroke="#9a9a9a" stroke-width="0.9"/>
<ellipse cx="158.8" cy="504" rx="4.75" ry="5.2" fill="#e3312f" stroke="#a82222" stroke-width="0.9"/>
<ellipse cx="195.4" cy="508.5" rx="4.6" ry="5.1" fill="#f3a82a" stroke="#c27c14" stroke-width="0.9"/>
<ellipse cx="101.25" cy="453.75" rx="4.35" ry="4.9" fill="#2d5bb2" stroke="#21448c" stroke-width="0.9"/>
<ellipse cx="100.5" cy="470" rx="4.6" ry="5.1" fill="#1f9a4c" stroke="#17763a" stroke-width="0.9"/>
<ellipse cx="94.6" cy="481.5" rx="4.35" ry="4.9" fill="#2d5bb2" stroke="#21448c" stroke-width="0.9"/>
<ellipse cx="93.8" cy="487" rx="4.35" ry="4.9" fill="#2d5bb2" stroke="#21448c" stroke-width="0.9"/>
<ellipse cx="86" cy="481.5" rx="4.35" ry="4.9" fill="#1f8ad2" stroke="#166aa6" stroke-width="0.9"/>
<ellipse cx="82.3" cy="488.5" rx="4.35" ry="4.9" fill="#1f8ad2" stroke="#166aa6" stroke-width="0.9"/>
<ellipse cx="73" cy="491" rx="4.35" ry="4.9" fill="#2d5bb2" stroke="#21448c" stroke-width="0.9"/>
<ellipse cx="177.5" cy="538.5" rx="4.35" ry="4.9" fill="#2d5bb2" stroke="#21448c" stroke-width="0.9"/>
<ellipse cx="128.75" cy="549.5" rx="4.75" ry="5.2" fill="#e3312f" stroke="#a82222" stroke-width="0.9"/>
<ellipse cx="94.5" cy="580" rx="4.75" ry="5.2" fill="#e3312f" stroke="#a82222" stroke-width="0.9"/>
<ellipse cx="89.5" cy="586.25" rx="4.75" ry="5.2" fill="#e3312f" stroke="#a82222" stroke-width="0.9"/>
<ellipse cx="111.75" cy="585.5" rx="4.75" ry="5.2" fill="#e3312f" stroke="#a82222" stroke-width="0.9"/>
<ellipse cx="80.75" cy="595" rx="4.75" ry="5.2" fill="#e3312f" stroke="#a82222" stroke-width="0.9"/>
<ellipse cx="88" cy="596.25" rx="4.75" ry="5.2" fill="#e3312f" stroke="#a82222" stroke-width="0.9"/>
<ellipse cx="96.25" cy="595.75" rx="4.75" ry="5.2" fill="#e3312f" stroke="#a82222" stroke-width="0.9"/>
<ellipse cx="88.75" cy="603.75" rx="4.75" ry="5.2" fill="#e3312f" stroke="#a82222" stroke-width="0.9"/>
<ellipse cx="93.75" cy="588.75" rx="4.6" ry="5.1" fill="#1f9a4c" stroke="#17763a" stroke-width="0.9"/>
<ellipse cx="76.25" cy="620" rx="4.75" ry="5.2" fill="#e3312f" stroke="#a82222" stroke-width="0.9"/>
<ellipse cx="376.5" cy="511.7" rx="4.35" ry="4.9" fill="#1f8ad2" stroke="#166aa6" stroke-width="0.9"/>
<ellipse cx="402" cy="531" rx="4.35" ry="4.9" fill="#2d5bb2" stroke="#21448c" stroke-width="0.9"/>
<ellipse cx="405" cy="532" rx="4.35" ry="4.9" fill="#1f8ad2" stroke="#166aa6" stroke-width="0.9"/>
<circle cx="318.8" cy="499.2" r="8.4" fill="none" stroke="#1a9a9c" stroke-width="2"/>
<ellipse cx="318.8" cy="499.2" rx="4.8" ry="5" fill="#1aa0a6" stroke="#127a80" stroke-width="0.8"/>
<path d="M319.2 500.8 L319.2 509 L321 507.3 L322.3 510 L323.4 509.5 L322.1 506.8 L324.5 506.6 Z" fill="#fff" stroke="#333" stroke-width="0.6"/>
<rect x="272.6" y="474.2" width="143" height="12.2" rx="1.5" fill="#fff" stroke="#1a9a9c" stroke-width="1.5"/>
<text x="275.4" y="483.6" font-size="8.6" fill="#222" textLength="138" lengthAdjust="spacingAndGlyphs" font-weight="bold">Yo-0 ID:6983 Phenotype:59.7917.</text>
<rect x="308" y="634.5" width="22" height="12.5" rx="1" fill="#fff" stroke="#bbb" stroke-width="0.8"/>
<text x="310" y="643.6" font-size="8.2" fill="#3a3a3a" textLength="18.5" lengthAdjust="spacingAndGlyphs">0.156</text>
<rect x="43.8" y="493.6" width="25" height="11" rx="1" fill="#fff" stroke="#bbb" stroke-width="0.8"/>
<text x="46.3" y="502.3" font-size="8" fill="#4a4a4a" textLength="20.3" lengthAdjust="spacingAndGlyphs">-0.064</text>
<path d="M387 372.2 V361.2 H416.3 V372.2" fill="#fff" stroke="#e2e2e2" stroke-width="0.8"/>
<circle cx="393.2" cy="369.8" r="1.2" fill="#666"/><circle cx="394.4" cy="365.3" r="0.8" fill="#777"/><circle cx="397.7" cy="367.9" r="1.5" fill="#666"/>
<line x1="402.5" y1="362" x2="402.5" y2="371.5" stroke="#e6e6e6" stroke-width="0.8"/>
<path d="M405.6 363.5 V371.3 H414.5" fill="none" stroke="#aaa" stroke-width="0.5"/><rect x="407.7" y="364" width="1.2" height="7.2" fill="#888"/><rect x="410" y="366.5" width="1.2" height="4.8" fill="#999"/><rect x="412.3" y="367.4" width="1.1" height="3.8" fill="#aaa"/>
<line x1="417.4" y1="372.5" x2="417.4" y2="633.75" stroke="#e0e0e0" stroke-width="1"/>
<text x="422" y="379.2" font-size="7" fill="#aaa" textLength="13.8" lengthAdjust="spacingAndGlyphs">Color</text>
<text x="422.5" y="393" font-size="10.4" fill="#505050" textLength="38.3" lengthAdjust="spacingAndGlyphs">Phenotype</text>
<line x1="422.5" y1="396" x2="508" y2="396" stroke="#f4f4f4" stroke-width="0.8"/>
<polygon points="501.5,387.0 504.5,387.0 503,389.6" fill="#666"/>
<rect x="424" y="399.8" width="7.2" height="31.7" fill="url(#cb)"/>
<text x="434.6" y="401.5" font-size="5.5" fill="#aaa" textLength="8" lengthAdjust="spacingAndGlyphs">200</text>
<text x="434.6" y="419.3" font-size="5.5" fill="#aaa" textLength="8" lengthAdjust="spacingAndGlyphs">100</text>
<rect x="430.8" y="418.8" width="12.5" height="12.6" fill="#fff" stroke="#bbb" stroke-width="0.7"/>
<text x="432.2" y="428.3" font-size="8.6" fill="#333" textLength="8.6" lengthAdjust="spacingAndGlyphs">60</text>
<text x="422.3" y="447" font-size="7" fill="#aaa" textLength="10.8" lengthAdjust="spacingAndGlyphs">Size</text>
<text x="423.7" y="460.2" font-size="10.4" fill="#505050" textLength="36.6" lengthAdjust="spacingAndGlyphs">Same size</text>
<line x1="422.5" y1="463" x2="508" y2="463" stroke="#f4f4f4" stroke-width="0.8"/>
<polygon points="501.2,453.7 504.2,453.7 502.7,456.3" fill="#666"/>
<text x="422.3" y="474.3" font-size="7" fill="#aaa" textLength="16" lengthAdjust="spacingAndGlyphs">Select</text>
<rect x="421.4" y="477.6" width="86.2" height="182.5" fill="#fff" stroke="#cfcfcf" stroke-width="0.8"/>
<svg x="421.6" y="478" width="78" height="181.8">
<rect x="1.0" y="1.2000000000000228" width="6.2" height="6.8" fill="#fff" stroke="#888" stroke-width="0.7"/>
<text x="8.3" y="6.100000000000023" font-size="5.9" fill="#262626" textLength="68" lengthAdjust="spacingAndGlyphs">Aa-0 ID:7000 Phenotype:No...</text>
<rect x="1.0" y="12.320000000000027" width="6.2" height="6.8" fill="#fff" stroke="#888" stroke-width="0.7"/>
<text x="8.3" y="17.220000000000027" font-size="5.9" fill="#262626" textLength="68" lengthAdjust="spacingAndGlyphs">Ag-0 ID:6897 Phenotype:45...</text>
<rect x="1.0" y="23.440000000000033" width="6.2" height="6.8" fill="#fff" stroke="#888" stroke-width="0.7"/>
<text x="8.3" y="28.340000000000032" font-size="5.9" fill="#262626" textLength="68" lengthAdjust="spacingAndGlyphs">Alc-0 ID:6988 Phenotype:6...</text>
<rect x="1.0" y="34.56000000000004" width="6.2" height="6.8" fill="#fff" stroke="#888" stroke-width="0.7"/>
<text x="8.3" y="39.460000000000036" font-size="5.9" fill="#262626" textLength="68" lengthAdjust="spacingAndGlyphs">Algutsrum ID:8230 Phenoty...</text>
<rect x="1.0" y="45.68000000000004" width="6.2" height="6.8" fill="#fff" stroke="#888" stroke-width="0.7"/>
<text x="8.3" y="50.58000000000004" font-size="5.9" fill="#262626" textLength="68" lengthAdjust="spacingAndGlyphs">An-1 ID:6898 Phenotype:26...</text>
<rect x="1.0" y="56.80000000000005" width="6.2" height="6.8" fill="#fff" stroke="#888" stroke-width="0.7"/>
<text x="8.3" y="61.700000000000045" font-size="5.9" fill="#262626" textLength="68" lengthAdjust="spacingAndGlyphs">Ang-0 ID:8254 Phenotype:3...</text>
<rect x="1.0" y="67.92000000000004" width="6.2" height="6.8" fill="#fff" stroke="#888" stroke-width="0.7"/>
<text x="8.3" y="72.82000000000005" font-size="5.9" fill="#262626" textLength="68" lengthAdjust="spacingAndGlyphs">Ba-1 ID:7014 Phenotype:No...</text>
<rect x="1.0" y="79.04000000000005" width="6.2" height="6.8" fill="#fff" stroke="#888" stroke-width="0.7"/>
<text x="8.3" y="83.94000000000005" font-size="5.9" fill="#262626" textLength="68" lengthAdjust="spacingAndGlyphs">Bay-0 ID:6899 Phenotype:2...</text>
<rect x="1.0" y="90.16000000000005" width="6.2" height="6.8" fill="#fff" stroke="#888" stroke-width="0.7"/>
<text x="8.3" y="95.06000000000006" font-size="5.9" fill="#262626" textLength="68" lengthAdjust="spacingAndGlyphs">Bg-2 ID:6709 Phenotype:33...</text>
<rect x="1.0" y="101.28000000000006" width="6.2" height="6.8" fill="#fff" stroke="#888" stroke-width="0.7"/>
<text x="8.3" y="106.18000000000006" font-size="5.9" fill="#262626" textLength="68" lengthAdjust="spacingAndGlyphs">Bl-6 ID:6900 Phenotype:20...</text>
<rect x="1.0" y="112.39999999999995" width="6.2" height="6.8" fill="#fff" stroke="#888" stroke-width="0.7"/>
<text x="8.3" y="117.29999999999995" font-size="5.9" fill="#262626" textLength="68" lengthAdjust="spacingAndGlyphs">Bl-7 ID:6901 Phenotype:20...</text>
<rect x="1.0" y="123.52000000000007" width="6.2" height="6.8" fill="#fff" stroke="#888" stroke-width="0.7"/>
<text x="8.3" y="128.42000000000007" font-size="5.9" fill="#262626" textLength="68" lengthAdjust="spacingAndGlyphs">Bla-1 ID:8264 Phenotype:55...</text>
<rect x="1.0" y="134.63999999999996" width="6.2" height="6.8" fill="#fff" stroke="#888" stroke-width="0.7"/>
<text x="8.3" y="139.53999999999996" font-size="5.9" fill="#262626" textLength="68" lengthAdjust="spacingAndGlyphs">Blh-1 ID:8265 Phenotype:25...</text>
<rect x="1.0" y="145.76000000000008" width="6.2" height="6.8" fill="#fff" stroke="#888" stroke-width="0.7"/>
<text x="8.3" y="150.66000000000008" font-size="5.9" fill="#262626" textLength="68" lengthAdjust="spacingAndGlyphs">Boo2-1 ID:8266 Phenotype:...</text>
<rect x="1.0" y="156.87999999999997" width="6.2" height="6.8" fill="#fff" stroke="#888" stroke-width="0.7"/>
<text x="8.3" y="161.77999999999997" font-size="5.9" fill="#262626" textLength="68" lengthAdjust="spacingAndGlyphs">Bor-1 ID:5837 Phenotype:4...</text>
<rect x="1.0" y="167.99999999999997" width="6.2" height="6.8" fill="#fff" stroke="#888" stroke-width="0.7"/>
<text x="8.3" y="172.89999999999998" font-size="5.9" fill="#262626" textLength="68" lengthAdjust="spacingAndGlyphs">Bor-4 ID:6903 Phenotype:3...</text>
<rect x="1.0" y="179.11999999999998" width="6.2" height="6.8" fill="#fff" stroke="#888" stroke-width="0.7"/>
<text x="8.3" y="184.01999999999998" font-size="5.9" fill="#262626" textLength="68" lengthAdjust="spacingAndGlyphs">Br-0 ID:6904 Phenotype:23...</text>
</svg>
<rect x="499.6" y="478" width="8" height="182" fill="#fff" stroke="#cfcfcf" stroke-width="0.7"/>
<polygon transform="rotate(180 503.6 482.5)" points="502.3,481.4 504.90000000000003,481.4 503.6,483.6" fill="#333"/>
<rect x="500.6" y="490" width="6" height="11" fill="#fff" stroke="#bbb" stroke-width="0.6"/>
<line x1="502.5" y1="493" x2="502.5" y2="498" stroke="#bbb" stroke-width="0.5"/><line x1="504.5" y1="493" x2="504.5" y2="498" stroke="#bbb" stroke-width="0.5"/>
<polygon points="502.3,653.4 504.90000000000003,653.4 503.6,655.6" fill="#333"/>
</svg>
</body></html>
